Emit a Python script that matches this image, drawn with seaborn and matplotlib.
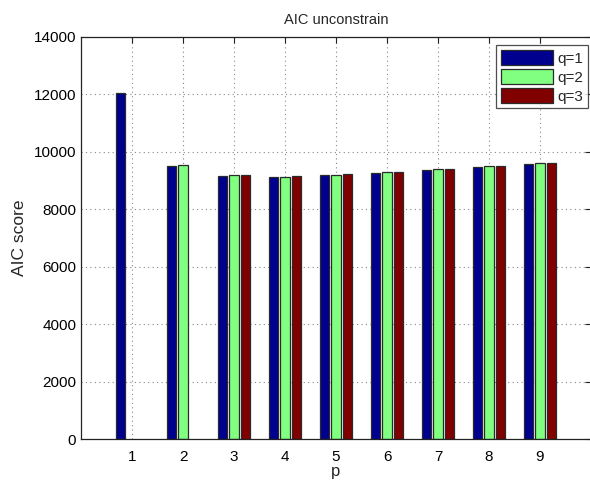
import matplotlib
matplotlib.use("Agg")
import matplotlib.pyplot as plt
import seaborn as sns
import pandas as pd

# AIC scores per model order p, for each q (missing where q > p)
p_values = [1, 2, 3, 4, 5, 6, 7, 8, 9]
aic_q1 = [12040, 9510, 9170, 9110, 9180, 9275, 9370, 9475, 9580]
aic_q2 = [None, 9530, 9180, 9135, 9205, 9300, 9390, 9495, 9605]
aic_q3 = [None, None, 9200, 9145, 9215, 9310, 9400, 9500, 9615]
q_labels = ["q=1", "q=2", "q=3"]
bar_colors = ["#00008f", "#80ff80", "#800000"]

rows = []
for label, series in zip(q_labels, [aic_q1, aic_q2, aic_q3]):
    for p, v in zip(p_values, series):
        if v is not None:
            rows.append({"p": str(p), "q": label, "AIC": v})
df = pd.DataFrame(rows)

sns.set_style("white")
plt.rcParams["font.family"] = ["Liberation Sans", "DejaVu Sans"]

fig = plt.figure(figsize=(5.90, 4.86), dpi=100)
ax = fig.add_axes([81 / 590, 1 - 439 / 486, 510 / 590, 402 / 486])

sns.barplot(
    data=df, x="p", y="AIC", hue="q",
    order=[str(p) for p in p_values], hue_order=q_labels,
    palette=bar_colors, width=0.667, gap=0.18,
    edgecolor="#2a2a2a", linewidth=0.9, saturation=1,
    errorbar=None, ax=ax,
)

ax.set_xlim(-1, 9)
ax.set_ylim(0, 14000)
ax.set_yticks(range(0, 14001, 2000))
ax.grid(True, linestyle=(0, (1, 3)), color="#888888", linewidth=0.8)
ax.set_axisbelow(True)
for s in ax.spines.values():
    s.set_color("#222222")
    s.set_linewidth(0.9)
ax.tick_params(direction="in", length=4, top=True, right=True,
               labelsize=11, colors="#222222", labelcolor="black")
ax.tick_params(axis="x", pad=8)

ax.set_title("AIC unconstrain", fontsize=10.5, pad=9)
ax.set_xlabel("p", fontsize=12, labelpad=0)
ax.set_ylabel("AIC score", fontsize=12.5, labelpad=5)

leg = ax.legend(loc="upper right", bbox_to_anchor=(1.0 - 3 / 510, 1.0 - 8 / 402),
                fontsize=11, frameon=True, fancybox=False, borderpad=0.3,
                handlelength=3.4, handleheight=1.2, handletextpad=0.3,
                labelspacing=0.2, borderaxespad=0)
leg.get_frame().set_edgecolor("#222222")
leg.get_frame().set_linewidth(0.9)

fig.savefig("out.png", dpi=100)
